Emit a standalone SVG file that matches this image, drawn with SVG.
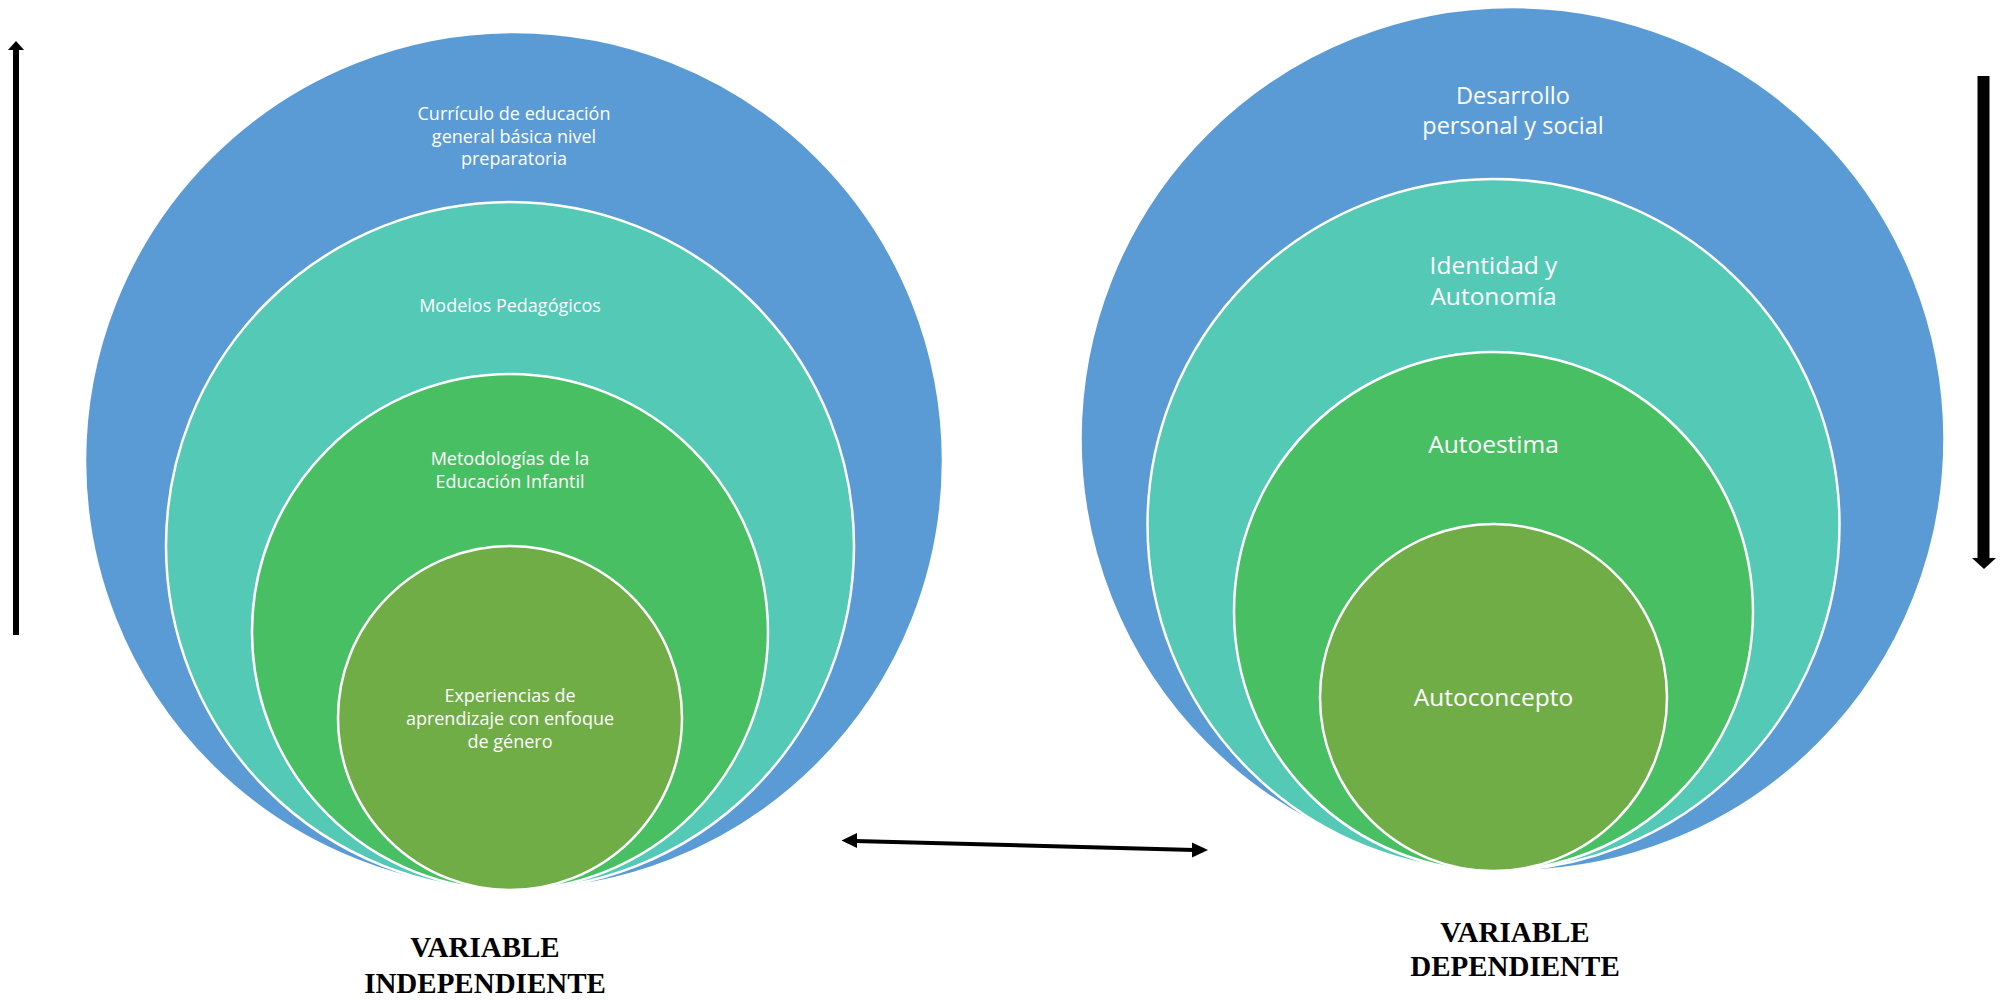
<svg xmlns="http://www.w3.org/2000/svg" width="2007" height="1000" viewBox="0 0 2007 1000">
<style>
.c{stroke:#ffffff;stroke-width:2.5}
.b{fill:#5B9BD5}
.t{fill:#53C9B6}
.g{fill:#49BF63}
.o{fill:#70AD47}
.lt{font-family:"Open Sans","Noto Sans",sans-serif;fill:#ffffff;text-anchor:middle;font-size:18px}
.rt{font-family:"Open Sans","Noto Sans",sans-serif;fill:#ffffff;text-anchor:middle;font-size:24.5px}
.lab{font-family:"Liberation Serif","Times New Roman",serif;font-weight:bold;font-size:29px;fill:#000000;text-anchor:middle}
.ln{stroke:#000000;fill:none}
.hd{fill:#000000}
</style>
<rect width="2007" height="1000" fill="#ffffff"/>
<g id="left-blue"><circle class="c b" cx="514" cy="461" r="429"/>
<text class="lt" x="514" y="120">Currículo de educación</text>
<text class="lt" x="514" y="143">general básica nivel</text>
<text class="lt" x="514" y="165">preparatoria</text></g>
<g id="left-teal"><circle class="c t" cx="510" cy="546" r="344"/>
<text class="lt" x="510" y="312">Modelos Pedagógicos</text></g>
<g id="left-green"><circle class="c g" cx="510" cy="632" r="258"/>
<text class="lt" x="510" y="465">Metodologías de la</text>
<text class="lt" x="510" y="488">Educación Infantil</text></g>
<g id="left-olive"><circle class="c o" cx="510" cy="718" r="172"/>
<text class="lt" x="510" y="702">Experiencias de</text>
<text class="lt" x="510" y="725">aprendizaje con enfoque</text>
<text class="lt" x="510" y="748">de género</text></g>
<g id="right-blue"><circle class="c b" cx="1512.5" cy="439" r="432"/>
<text class="rt" x="1513" y="104" style="font-size:23.5px">Desarrollo</text>
<text class="rt" x="1513" y="134" style="font-size:23.5px">personal y social</text></g>
<g id="right-teal"><circle class="c t" cx="1493.5" cy="525" r="346"/>
<text class="rt" x="1493.5" y="274">Identidad y</text>
<text class="rt" x="1493.5" y="305">Autonomía</text></g>
<g id="right-green"><circle class="c g" cx="1493.5" cy="611.5" r="259.5"/>
<text class="rt" x="1493.5" y="453">Autoestima</text></g>
<g id="right-olive"><circle class="c o" cx="1493.5" cy="697.5" r="173.5"/>
<text class="rt" x="1493.5" y="706">Autoconcepto</text></g>
<g id="label-left">
<text class="lab" x="485" y="957">VARIABLE</text>
<text class="lab" x="485" y="993">INDEPENDIENTE</text></g>
<g id="label-right">
<text class="lab" x="1515" y="942">VARIABLE</text>
<text class="lab" x="1515" y="976">DEPENDIENTE</text></g>
<g id="connectors">
<line class="ln" x1="16" y1="49" x2="16" y2="635" stroke-width="6"/>
<polygon class="hd" points="16,41 8,50 24,50"/>
<line class="ln" x1="1983.5" y1="76" x2="1983.5" y2="559" stroke-width="12"/>
<polygon class="hd" points="1972,558 1996,558 1984,569"/>
<line class="ln" x1="855" y1="841" x2="1194" y2="850" stroke-width="4"/>
<polygon class="hd" points="841.5,840.5 857,833 857,848"/>
<polygon class="hd" points="1208,850 1192,842.5 1192,857.5"/>
</g>
</svg>
